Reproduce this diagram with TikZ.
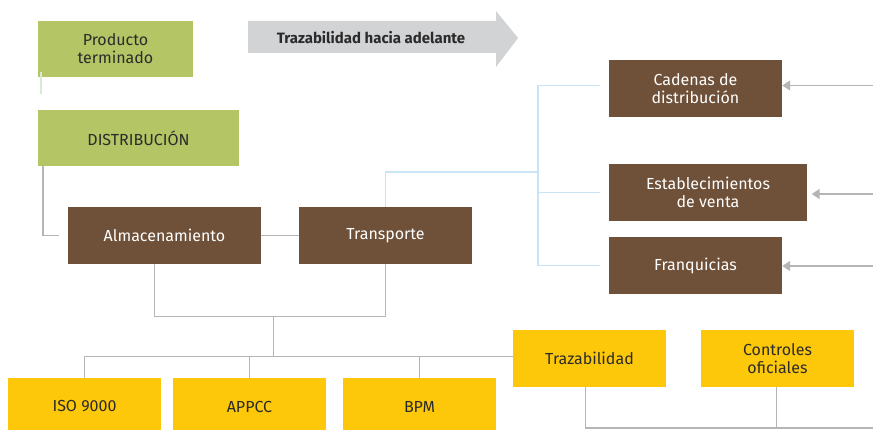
\documentclass[tikz,border=0pt]{standalone}
\usepackage{fontspec}
\setmainfont{Fira Sans}
\usetikzlibrary{arrows.meta,calc}
\definecolor{leaf}{HTML}{B3C565}
\definecolor{bark}{HTML}{6F5038}
\definecolor{sun}{HTML}{FDC80A}
\definecolor{wire}{HTML}{B4B5B7}
\definecolor{sky}{HTML}{C9E4F5}
\definecolor{sprout}{HTML}{D8EAD2}
\definecolor{band}{HTML}{D2D3D5}
\definecolor{ink}{HTML}{2B2B2B}
\tikzset{
  box/.style={rectangle, inner sep=0pt, align=center, font=\fontsize{16}{18}\selectfont},
  greenbox/.style={box, fill=leaf, text=ink},
  brownbox/.style={box, fill=bark, text=white},
  yellowbox/.style={box, fill=sun, text=ink},
  link/.style={draw=wire, line width=1.5pt},
  bluelink/.style={draw=sky, line width=1.5pt},
  feed/.style={draw=wire, line width=1.5pt, -{Triangle[length=8pt,width=10pt]}},
}
\begin{document}
\begin{tikzpicture}[x=1pt,y=-1pt]
\useasboundingbox (0,0) rectangle (873,430);
\clip (0,0) rectangle (873,430);

% forward-traceability banner
\fill[band] (248,21) -- (496,21) -- (496,11) -- (518,38) -- (496,67) -- (496,53) -- (248,53) -- cycle;
\node[font=\fontsize{15}{17}\bfseries, text=ink] (fwd) at (371,38) {Trazabilidad hacia adelante};

% upper chain
\node[greenbox, minimum width=155, minimum height=56] (prod) at (115.5,49) {Producto\\terminado};
\node[greenbox, minimum width=201, minimum height=56] (dist) at (138.5,138) {DISTRIBUCIÓN};
\node[brownbox, minimum width=193, minimum height=57] (alm) at (164.5,235.5) {Almacenamiento};
\node[brownbox, minimum width=173, minimum height=57] (trans) at (385.5,235.5) {Transporte};

% retail outlets
\node[brownbox, minimum width=173, minimum height=57] (cad) at (695.5,88.5) {Cadenas de\\distribución};
\node[brownbox, minimum width=198, minimum height=57] (est) at (708,192.5) {Establecimientos\\de venta};
\node[brownbox, minimum width=173, minimum height=57] (fra) at (695.5,265.5) {Franquicias};

% quality systems
\node[yellowbox, minimum width=153, minimum height=57] (iso) at (84.5,406.5) {ISO 9000};
\node[yellowbox, minimum width=153, minimum height=57] (appcc) at (249.5,406.5) {APPCC};
\node[yellowbox, minimum width=153, minimum height=57] (bpm) at (419.5,406.5) {BPM};
\node[yellowbox, minimum width=153, minimum height=57] (traz) at (589.5,358.5) {Trazabilidad};
\node[yellowbox, minimum width=153, minimum height=57] (ctrl) at (777.5,358.5) {Controles\\oficiales};

% junction points
\coordinate (almin) at ([xshift=-9pt]alm.west);
\coordinate (jb) at (538,172);
\coordinate (cadin) at ([xshift=-9pt]cad.west);
\coordinate (estin) at ([xshift=-9pt]est.west);
\coordinate (frain) at ([xshift=-9pt]fra.west);
\coordinate (jm) at (273.3,316.7);
\coordinate (jl) at (273.3,356);
\coordinate (edge) at (873,428);
\coordinate (ecad) at (873,85.5);
\coordinate (eest) at (873,194);
\coordinate (efra) at (873,266);

% upper connectors
\draw[draw=sprout, line width=1.5pt] ([xshift=3pt,yshift=5pt]prod.south west) -- ++(0,22);
\draw[link] ([xshift=5pt]dist.south west) |- (almin);
\draw[link] (alm.east) -- (trans.west);

% transport to outlets
\draw[bluelink] (trans.north) |- (jb);
\draw[bluelink] (cadin |- ecad) -| (jb) |- (frain);
\draw[bluelink] (jb |- estin) -- (estin);

% incoming arrows
\draw[feed] (ecad) -- (cad.east |- ecad);
\draw[feed, shorten >=4.5pt] (eest) -- (est.east |- eest);
\draw[feed] (efra) -- (fra.east |- efra);

% distribution to quality systems
\draw[link] ([xshift=-10pt]alm.south) |- (jm) -| (trans.south);
\draw[link] (jm) -- (jl);
\draw[link] (iso.north) |- ([yshift=2pt]traz.west);
\draw[link] (appcc.north) -- (appcc.north |- jl);
\draw[link] (bpm.north) -- (bpm.north |- jl);
\draw[link] ([xshift=-4pt]traz.south) |- (edge);
\draw[link] ([xshift=-1pt]ctrl.south) -- ([xshift=-1pt]ctrl.south |- edge);
\end{tikzpicture}
\end{document}
